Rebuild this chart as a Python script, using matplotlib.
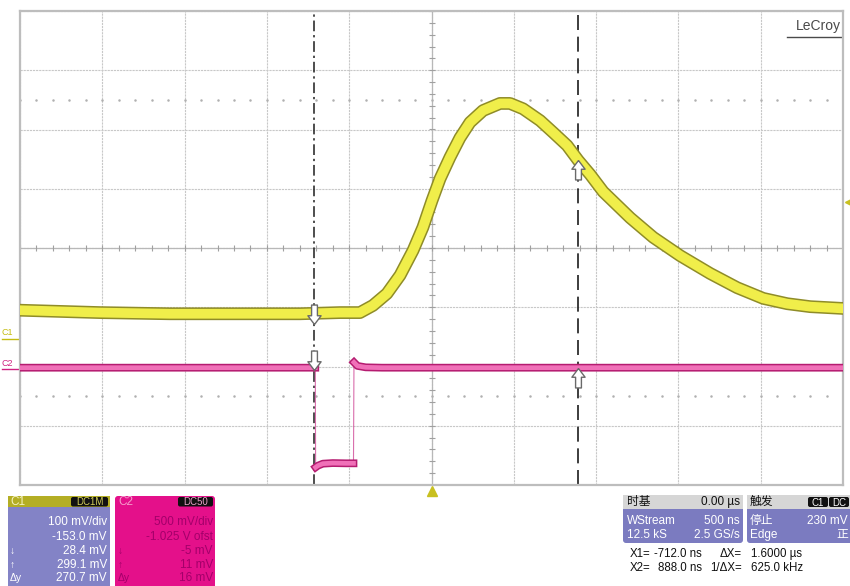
import numpy as np
import matplotlib
matplotlib.use("Agg")
import matplotlib.pyplot as plt
import matplotlib.patheffects as pe
from matplotlib.patches import FancyBboxPatch, Rectangle
from matplotlib.path import Path

plt.rcParams['font.family'] = ['Liberation Sans', 'Noto Sans CJK SC', 'DejaVu Sans']

# channel 1 (yellow), 100 mV/div, offset -153 mV
c1_scale, c1_offset = 100.0, -153.0
c1_t = [-2500, -2015, -1590, -1164, -799, -556, -435, -356, -271, -191, -112,
        -52, 3, 52, 112, 173, 234, 313, 416, 477, 556, 660, 739, 824, 891,
        964, 1043, 1207, 1347, 1511, 1693, 1857, 2015, 2161, 2301, 2500]
c1_mv = [48, 44, 42, 42, 42, 44, 44, 56, 76, 107, 149,
         188, 233, 270, 306, 339, 365, 385, 397, 397, 388, 368, 348, 326, 301,
         277, 248, 204, 171, 140, 110, 86, 68, 59, 54, 51]

# channel 2 (magenta), 500 mV/div, offset -1.025 V
c2_scale, c2_offset = 500.0, -1025.0
c2_t = [-2500, -706, -704, -690, -660, -600, -520, -474, -471, -450, -400, -300, 2500]
c2_mv = [15, 15, -826, -812, -795, -790, -792, -792, 60, 30, 18, 15, 15]

# cursors and trigger
x1_ns, x2_ns = -712.0, 888.0
trig_t, trig_mv = 0.0, 230.0

c1_lines = ["100 mV/div", "-153.0 mV", "28.4 mV", "299.1 mV", "270.7 mV"]
c2_lines = ["500 mV/div", "-1.025 V ofst", "-5 mV", "11 mV", "16 mV"]
row_marks = ["", "", "↓", "↑", "Δy"]
tb_head = ("时基", "0.00 µs")
tb_rows = [("WStream", "500 ns"), ("12.5 kS", "2.5 GS/s")]
trg_head = "触发"
trg_rows = [("停止", "230 mV"), ("Edge", "正")]


def c1_div(v):
    return (np.asarray(v, float) + c1_offset) / c1_scale


def c2_div(v):
    return (np.asarray(v, float) + c2_offset) / c2_scale


fig = plt.figure(figsize=(8.5, 5.86), dpi=100)
ax = fig.add_axes([20 / 850, 101 / 586, 823 / 850, 474 / 586])
ax.set_xlim(-2500, 2500)
ax.set_ylim(-4, 4)
ax.set_xticks(np.arange(-2500, 2501, 500))
ax.set_yticks(np.arange(-4, 5, 1))
ax.tick_params(length=0, labelbottom=False, labelleft=False)
ax.grid(True, color='#c8c8c8', lw=0.8, ls=(0, (2, 0.8)))
for s in ax.spines.values():
    s.set_color('#bdbdbd')
    s.set_linewidth(1.6)

# center axes with small ticks
ax.axhline(0, color='#b8b8b8', lw=0.9)
ax.axvline(0, color='#b8b8b8', lw=0.9)
mt = np.arange(-2500, 2501, 100)
ax.plot(mt, np.zeros_like(mt), ls='none', marker='|', ms=5, color='#a0a0a0', mew=0.8)
my = np.arange(-4, 4.01, 0.2)
ax.plot(np.zeros_like(my), my, ls='none', marker='_', ms=5, color='#a0a0a0', mew=0.8)
# dotted reference rows
for yy in (2.5, -2.5):
    ax.plot(mt, np.full_like(mt, yy, dtype=float), ls='none', marker='.', ms=1.6,
            color='#b0b0b0')

# cursors
ax.axvline(x1_ns, color='#1c1c1c', lw=1.1, dashes=(7, 2.5, 1.5, 2.5), zorder=2)
ax.axvline(x2_ns, color='#1c1c1c', lw=1.2, dashes=(9, 4), zorder=2)

# C2 trace: thin edges plus thick levels
ax.plot(c2_t, c2_div(c2_mv), color='#d04a98', lw=0.8, alpha=0.8, zorder=3)
tt, vv = [], []
for i in range(len(c2_t)):
    if i > 0 and abs(c2_mv[i] - c2_mv[i - 1]) > 300:
        tt.append(np.nan)
        vv.append(np.nan)
    tt.append(c2_t[i])
    vv.append(c2_mv[i])
ax.plot(tt, c2_div(vv), color='#f070b8', lw=3.4, zorder=3, solid_joinstyle='round',
        path_effects=[pe.Stroke(linewidth=5.6, foreground='#b51c70'), pe.Normal()])

# C1 trace
ax.plot(c1_t, c1_div(c1_mv), color='#f0ee4a', lw=7.0, zorder=3, solid_joinstyle='round',
        path_effects=[pe.Stroke(linewidth=9.2, foreground='#8f8c28'), pe.Normal()])

# cursor arrow markers
up = Path([(0, 0), (0.34, -0.45), (0.15, -0.45), (0.15, -1), (-0.15, -1),
           (-0.15, -0.45), (-0.34, -0.45), (0, 0)])
down = Path(up.vertices * [1, -1])
y1a = c1_div(np.interp(x1_ns, c1_t, c1_mv))
y1b = c1_div(np.interp(x2_ns, c1_t, c1_mv))
y2a = c2_div(np.interp(x1_ns - 10, c2_t, c2_mv))
y2b = c2_div(np.interp(x2_ns, c2_t, c2_mv))
mk = dict(ls='none', ms=28, mfc='white', mec='#6a6a6a', mew=1.0, zorder=5)
ax.plot([x1_ns], [y1a - 0.18], marker=down, **mk)
ax.plot([x1_ns], [y2a - 0.04], marker=down, **mk)
ax.plot([x2_ns], [y1b], marker=up, **mk)
ax.plot([x2_ns], [y2b], marker=up, **mk)

# trigger markers
ax.plot([trig_t], [-4.1], marker='^', ms=7, color='#c8c020', clip_on=False, zorder=6)
ax.plot([2530], [c1_div(trig_mv)], marker='<', ms=5, color='#c8c020', clip_on=False, zorder=6)

# channel ground markers
for lab, y0, col in (("C1", c1_div(0), '#c4bc10'), ("C2", c2_div(0), '#d02080')):
    ax.text(-2575, y0 + 0.03, lab, fontsize=6.5, color=col, ha='center', va='bottom',
            clip_on=False)
    ax.plot([-2610, -2510], [y0, y0], color=col, lw=1.0, clip_on=False)

# LeCroy logo
ax.text(0.998, 0.984, "LeCroy", transform=ax.transAxes, ha='right', va='top',
        fontsize=10, color='#4a4a4a')
ax.plot([0.932, 0.998], [0.946, 0.946], transform=ax.transAxes, color='#4a4a4a', lw=1.0)

# ---- readout panels, in pixel coordinates ----
ov = fig.add_axes([0, 0, 1, 1])
ov.set_xlim(0, 850)
ov.set_ylim(586, 0)
ov.axis('off')
ov.patch.set_alpha(0)


def box(x, y, w, h, fc, r=3):
    ov.add_patch(FancyBboxPatch((x + r, y + r), w - 2 * r, h - 2 * r,
                                boxstyle="round,pad=%d" % r, fc=fc, ec='none'))


def tag(x, y, w, h, txt, tc):
    box(x, y, w, h, '#111111', r=2)
    ov.text(x + w / 2, y + h / 2 + 0.5, txt, fontsize=7, color=tc, ha='center', va='center')


fs = 8.5
# C1 panel
box(8, 496, 102, 100, '#8383c6')
ov.add_patch(Rectangle((8, 496), 102, 11, fc='#b4ae24', ec='none'))
ov.text(10, 502, "C1", fontsize=fs, color='#f4f2c0', va='center')
tag(71, 497, 37, 9.5, "DC1M", '#d4d05a')
rows_y = [522, 537, 551, 565, 578]
for yy, txt, m in zip(rows_y, c1_lines, row_marks):
    ov.text(107, yy, txt, fontsize=fs, color='white', ha='right', va='center')
    ov.text(10, yy, m, fontsize=fs - 1, color='white', va='center')

# C2 panel
box(115, 496, 100, 100, '#e4108a')
ov.text(118, 502, "C2", fontsize=fs, color='#f59ccc', va='center')
tag(178, 497, 35, 9.5, "DC50", '#e9a0c8')
for yy, txt, m in zip(rows_y, c2_lines, row_marks):
    ov.text(213, yy, txt, fontsize=fs, color='#a3006a', ha='right', va='center')
    ov.text(118, yy, m, fontsize=fs - 1, color='#a3006a', va='center')

# timebase panel
box(623, 495, 120, 48, '#7b7bc0')
ov.add_patch(Rectangle((623, 495), 120, 14, fc='#d6d6d6', ec='none'))
ov.text(627, 502, tb_head[0], fontsize=fs, color='#111111', va='center')
ov.text(740, 502, tb_head[1], fontsize=fs, color='#111111', va='center', ha='right')
for yy, (a, b) in zip([521, 535], tb_rows):
    ov.text(627, yy, a, fontsize=fs, color='white', va='center')
    ov.text(740, yy, b, fontsize=fs, color='white', va='center', ha='right')

# trigger panel
box(747, 495, 106, 48, '#7b7bc0')
ov.add_patch(Rectangle((747, 495), 106, 14, fc='#d6d6d6', ec='none'))
ov.text(750, 502, trg_head, fontsize=fs, color='#111111', va='center')
tag(808, 497, 20, 10, "C1", 'white')
tag(829, 497, 20, 10, "DC", 'white')
for yy, (a, b) in zip([521, 535], trg_rows):
    ov.text(750, yy, a, fontsize=fs, color='white', va='center')
    ov.text(848, yy, b, fontsize=fs, color='white', va='center', ha='right')

# cursor readout
dx = x2_ns - x1_ns
fr = 8.3
ov.text(630, 554, "X1=", fontsize=fr, color='#111111', va='center')
ov.text(702, 554, "%.1f ns" % x1_ns, fontsize=fr, color='#111111', va='center', ha='right')
ov.text(630, 568, "X2=", fontsize=fr, color='#111111', va='center')
ov.text(702, 568, "%.1f ns" % x2_ns, fontsize=fr, color='#111111', va='center', ha='right')
ov.text(742, 554, "ΔX=", fontsize=fr, color='#111111', va='center', ha='right')
ov.text(751, 554, "%.4f µs" % (dx / 1000), fontsize=fr, color='#111111', va='center')
ov.text(742, 568, "1/ΔX=", fontsize=fr, color='#111111', va='center', ha='right')
ov.text(751, 568, "%.1f kHz" % (1e6 / dx), fontsize=fr, color='#111111', va='center')

fig.savefig("out.png", dpi=100)
